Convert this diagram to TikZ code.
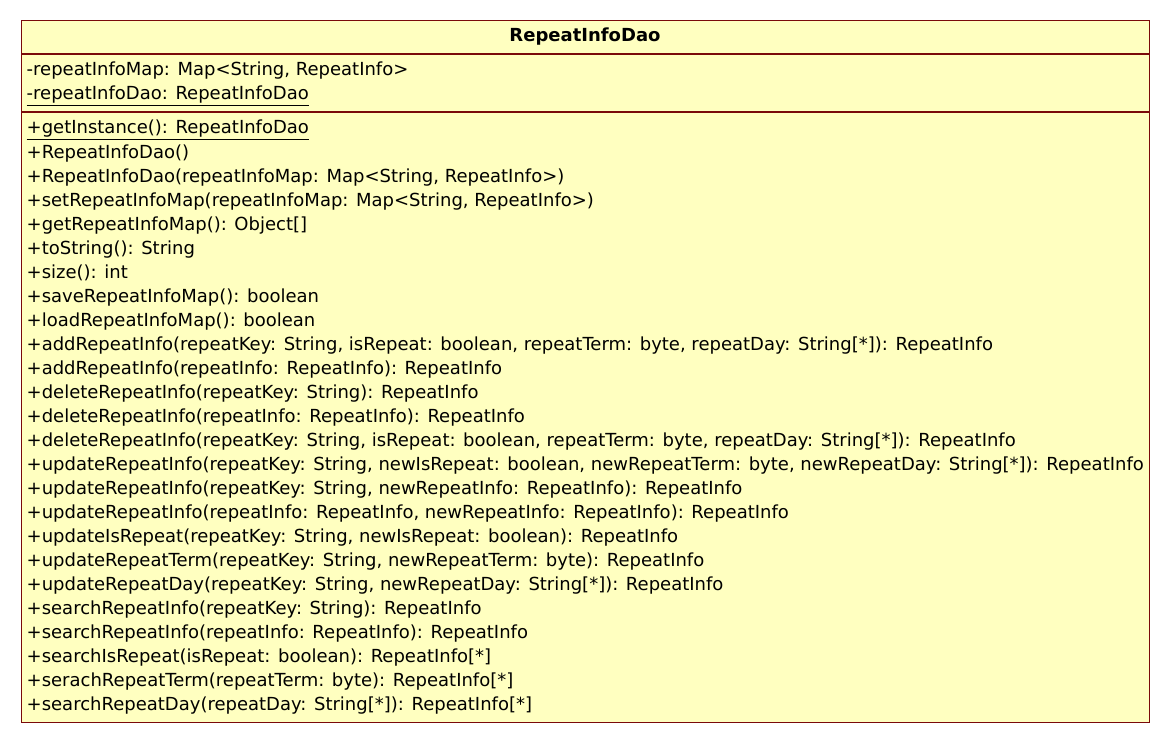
\documentclass[tikz,border=0pt]{standalone}
\usepackage{fontspec}
\setmainfont{DejaVu Sans}
\usetikzlibrary{positioning}
\definecolor{umlfill}{HTML}{FFFFC0}
\definecolor{umlline}{HTML}{7A0A0A}

\begin{document}
\begin{tikzpicture}[x=1pt,y=-1pt,
            node distance = 0pt,
            part/.style = {draw=umlline,fill=umlfill,line width=1pt,
                minimum width=1128pt,inner sep=0pt},
            member/.style = {anchor=base west,inner sep=0pt,
                font=\fontsize{18}{24}\selectfont}]
            \useasboundingbox (0,0) rectangle (1169,741);
            % the three compartments of the class
            \node[part,minimum height=33pt,anchor=north west] (head) at (20.5,20) {};
            \node[part,minimum height=57pt,below=of head] (attrs) {};
            \node[part,minimum height=610pt,below=of attrs] (ops) {};
            \node[font=\fontsize{18}{24}\selectfont\bfseries] (name) at (head) {RepeatInfoDao};
            % attributes
            \foreach \txt [count=\i] in {
                {-repeatInfoMap: Map<String, RepeatInfo>},
                {\underline{-repeatInfoDao: RepeatInfoDao}}}
                \node[member] (a\i) at ([shift={(6,22+24*\i-24)}]attrs.north west) {\txt};
            % operations
            \foreach \txt [count=\i] in {
                {\underline{+getInstance(): RepeatInfoDao}},
                {+RepeatInfoDao()},
                {+RepeatInfoDao(repeatInfoMap: Map<String, RepeatInfo>)},
                {+setRepeatInfoMap(repeatInfoMap: Map<String, RepeatInfo>)},
                {+getRepeatInfoMap(): Object[]},
                {+toString(): String},
                {+size(): int},
                {+saveRepeatInfoMap(): boolean},
                {+loadRepeatInfoMap(): boolean},
                {+addRepeatInfo(repeatKey: String, isRepeat: boolean, repeatTerm: byte, repeatDay: String[*]): RepeatInfo},
                {+addRepeatInfo(repeatInfo: RepeatInfo): RepeatInfo},
                {+deleteRepeatInfo(repeatKey: String): RepeatInfo},
                {+deleteRepeatInfo(repeatInfo: RepeatInfo): RepeatInfo},
                {+deleteRepeatInfo(repeatKey: String, isRepeat: boolean, repeatTerm: byte, repeatDay: String[*]): RepeatInfo},
                {+updateRepeatInfo(repeatKey: String, newIsRepeat: boolean, newRepeatTerm: byte, newRepeatDay: String[*]): RepeatInfo},
                {+updateRepeatInfo(repeatKey: String, newRepeatInfo: RepeatInfo): RepeatInfo},
                {+updateRepeatInfo(repeatInfo: RepeatInfo, newRepeatInfo: RepeatInfo): RepeatInfo},
                {+updateIsRepeat(repeatKey: String, newIsRepeat: boolean): RepeatInfo},
                {+updateRepeatTerm(repeatKey: String, newRepeatTerm: byte): RepeatInfo},
                {+updateRepeatDay(repeatKey: String, newRepeatDay: String[*]): RepeatInfo},
                {+searchRepeatInfo(repeatKey: String): RepeatInfo},
                {+searchRepeatInfo(repeatInfo: RepeatInfo): RepeatInfo},
                {+searchIsRepeat(isRepeat: boolean): RepeatInfo[*]},
                {+serachRepeatTerm(repeatTerm: byte): RepeatInfo[*]},
                {+searchRepeatDay(repeatDay: String[*]): RepeatInfo[*]}}
                \node[member] (m\i) at ([shift={(6,22+24*\i-24)}]ops.north west) {\txt};
        \end{tikzpicture}
\end{document}
